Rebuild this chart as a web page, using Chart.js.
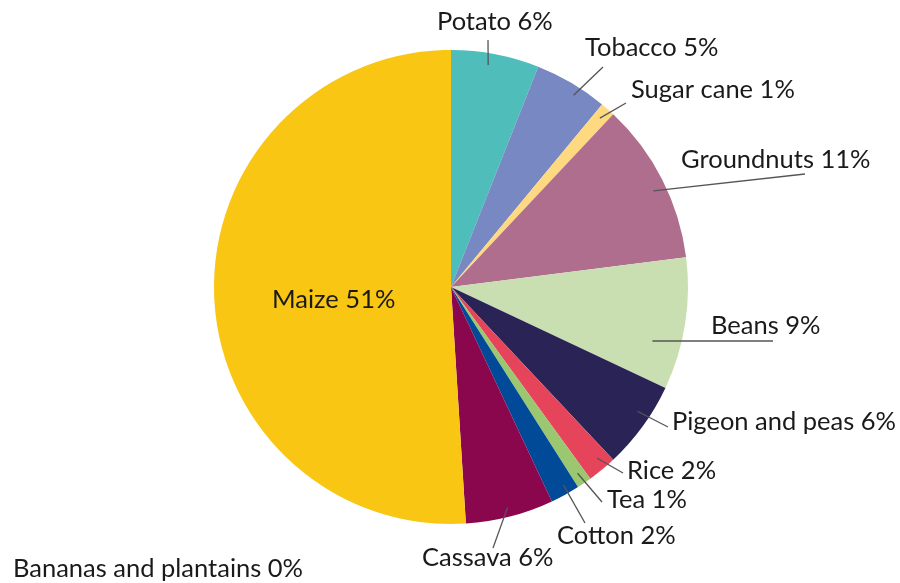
<!DOCTYPE html>
<html>
<head>
<meta charset="utf-8">
<script src="https://cdn.jsdelivr.net/npm/chart.js@4/dist/chart.umd.min.js"></script>
<style>
  html, body { margin: 0; padding: 0; background: #fff; }
  #wrap { width: 900px; height: 583px; position: relative; }
</style>
</head>
<body>
<div id="wrap"><canvas id="cropChart"></canvas></div>
<script>
// crop shares, clockwise from 12 o'clock
const crops = ['Potato', 'Tobacco', 'Sugar cane', 'Groundnuts', 'Beans', 'Pigeon and peas',
  'Rice', 'Tea', 'Cotton', 'Cassava', 'Bananas and plantains', 'Maize'];
const shares = [6, 5, 1, 11, 9, 6, 2, 1, 2, 6, 0, 51];
const colours = ['#4fbdba', '#7788c3', '#ffd97f', '#b06e8e', '#c9dfb2', '#2a2456',
  '#e5445a', '#9bc770', '#004a98', '#8a074e', '#f2a900', '#f9c613'];

// where each label sits, relative to the pie centre (leader start follows the slice)
const labelLayout = [
  { da: -1.3, r: 0.95, end: [37, -247], text: [-14, -265] },
  { da: 2, r: 0.96, end: [152, -220], text: [134, -239] },
  { da: 0, r: 0.95, end: [175, -184], text: [180, -197] },
  { da: 1.6, r: 0.945, end: [354, -113], text: [230, -127] },
  { da: 6, r: 0.88, end: [322, 54], text: [260, 39] },
  { da: -2.3, r: 0.945, end: [217, 140], text: [221, 135] },
  { da: -0.9, r: 0.95, end: [172, 186], text: [176, 184] },
  { da: 0, r: 0.95, end: [151, 215], text: [156, 213] },
  { da: -0.8, r: 0.96, end: [134, 236], text: [106, 249] },
  { da: 0, r: 0.96, end: [42, 261], text: [-29, 271] },
  { text: [-438, 282] },
  { text: [-179, 13] }
];

const labelPlugin = {
  id: 'sliceLabels',
  afterDraw(chart) {
    const ctx = chart.ctx;
    const arcs = chart.getDatasetMeta(0).data;
    ctx.save();
    ctx.font = '25.5px Lato';
    ctx.textBaseline = 'middle';
    ctx.textAlign = 'left';
    arcs.forEach((arc, i) => {
      const lay = labelLayout[i];
      const cx = arc.x, cy = arc.y;
      if (lay.end) {
        const mid = (arc.startAngle + arc.endAngle) / 2 + lay.da * Math.PI / 180;
        const rr = arc.outerRadius * lay.r;
        ctx.beginPath();
        ctx.moveTo(cx + Math.cos(mid) * rr, cy + Math.sin(mid) * rr);
        ctx.lineTo(cx + lay.end[0], cy + lay.end[1]);
        ctx.strokeStyle = '#555';
        ctx.lineWidth = 1.3;
        ctx.stroke();
      }
      ctx.fillStyle = '#1a1a1a';
      ctx.fillText(`${crops[i]} ${shares[i]}%`, cx + lay.text[0], cy + lay.text[1]);
    });
    ctx.restore();
  }
};

new Chart(document.getElementById('cropChart'), {
  type: 'pie',
  data: {
    labels: crops,
    datasets: [{
      data: shares,
      backgroundColor: colours,
      borderWidth: 0
    }]
  },
  options: {
    responsive: true,
    maintainAspectRatio: false,
    animation: false,
    layout: { padding: { top: 50, bottom: 59, left: 214, right: 212 } },
    plugins: {
      legend: { display: false },
      tooltip: { enabled: false }
    }
  },
  plugins: [labelPlugin]
});
</script>
</body>
</html>
